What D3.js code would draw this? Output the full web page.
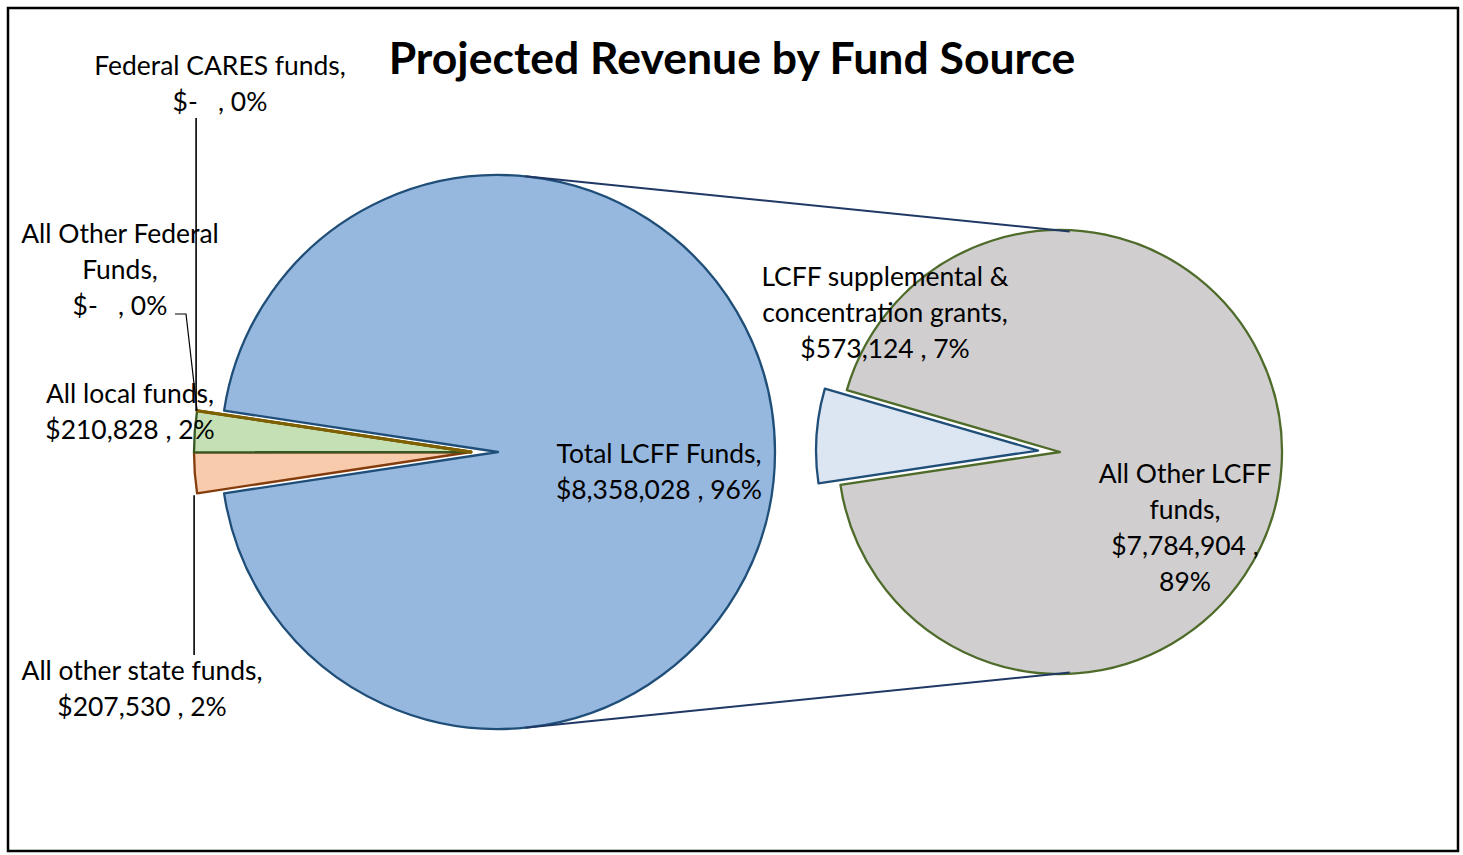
<!DOCTYPE html>
<html>
<head>
<meta charset="utf-8">
<script src="https://cdn.jsdelivr.net/npm/d3@7"></script>
<style>
	body { margin: 0; background: #fff; }
	svg text { font-family: Lato, "Open Sans", sans-serif; fill: #000; }
</style>
</head>
<body>
<svg id="chart" width="1463" height="855"></svg>
<script>

// main pie
const categories = ["Total LCFF Funds", "All other state funds", "All local funds", "All Other Federal Funds", "Federal CARES funds"];
const values = [8358028, 207530, 210828, 0, 0];
const pctLabels = ["96%", "2%", "2%", "0%", "0%"];

// second pie (split of Total LCFF Funds)
const splitCategories = ["LCFF supplemental & concentration grants", "All Other LCFF funds"];
const splitValues = [573124, 7784904];
const splitPctLabels = ["7%", "89%"];

const fills = ["#97b8de", "#f8cbad", "#c5e0b4", "#ffe699", "#ffe699"];
const strokes = ["#1f4e79", "#843c0c", "#385723", "#7f6000", "#7f6000"];
const splitFills = ["#dce6f2", "#d0cece"];
const splitStrokes = ["#1f4e79", "#4e6b2a"];

// label placement (centre x, first baseline y, wrap width)
const labelPos = {
	"Total LCFF Funds": { x: 659, y: 463, wrap: 265 },
	"All other state funds": { x: 142, y: 680, wrap: 265 },
	"All local funds": { x: 130, y: 403, wrap: 200 },
	"All Other Federal Funds": { x: 120, y: 243, wrap: 215 },
	"Federal CARES funds": { x: 220, y: 75, wrap: 275 },
	"LCFF supplemental & concentration grants": { x: 885, y: 286, wrap: 268 },
	"All Other LCFF funds": { x: 1185, y: 483, wrap: 178 }
};

const W = 1463, H = 855;
const lineH = 36;
const svg = d3.select('#chart');

// frame
svg.append('rect')
	.attr('x', 8).attr('y', 8)
	.attr('width', 1450).attr('height', 843)
	.attr('fill', 'none').attr('stroke', '#000').attr('stroke-width', 2.5);

// title, fitted to width
let title = svg.append('text')
	.attr('x', 732).attr('y', 74)
	.attr('text-anchor', 'middle')
	.style('font-weight', 'bold')
	.style('font-size', '40px')
	.text('Projected Revenue by Fund Source');
let tw = title.node().getComputedTextLength();
title.style('font-size', (40 * 687 / tw) + 'px');

// label font size fitted so "Total LCFF Funds," is ~205px
let probe = svg.append('text').style('font-size', '24px').text('Total LCFF Funds,');
const labelSize = 24 * 205 / probe.node().getComputedTextLength();
probe.style('font-size', labelSize + 'px');

function measure(str) {
	probe.text(str);
	return probe.node().getComputedTextLength();
}

function wrapWords(str, width) {
	let words = str.split(' ');
	let lines = [];
	let cur = '';
	words.forEach(w => {
		let t = cur === '' ? w : cur + ' ' + w;
		if (cur !== '' && measure(t) > width) {
			lines.push(cur);
			cur = w;
		} else {
			cur = t;
		}
	});
	if (cur !== '') lines.push(cur);
	return lines;
}

const fmtMoney = v => v === 0 ? '$-   ' : '$' + d3.format(',')(v) + ' ';

function labelLines(name, value, pct, width) {
	let nameLines = wrapWords(name + ',', width);
	// value part keeps its padding, so wrap on the ", " separator only
	let valStr = fmtMoney(value) + ',';
	let full = valStr + ' ' + pct;
	let valLines = measure(full) > width ? [valStr, pct] : [full];
	return nameLines.concat(valLines);
}

// ---------- left pie ----------
const cx1 = 498, cy1 = 452, r1 = 277;
const smallShift = -27;

const total = d3.sum(values);
const mainAngle = 2 * Math.PI * values[0] / total;
const start1 = Math.PI / 2 - mainAngle / 2;

const pie1 = d3.pie().sort(null).value(d => d.value)
	.startAngle(start1).endAngle(start1 + 2 * Math.PI);

const data1 = categories.map((c, i) => ({ name: c, value: values[i], pct: pctLabels[i], i: i }));
const arcs1 = pie1(data1);

const arc1 = d3.arc().innerRadius(0).outerRadius(r1);

const g1 = svg.append('g').attr('transform', `translate(${cx1},${cy1})`);

g1.selectAll('path')
	.data(arcs1)
	.join('path')
	.attr('transform', d => d.data.i === 0 ? null : `translate(${smallShift},0)`)
	.attr('d', arc1)
	.attr('fill', d => d.data.value === 0 ? 'none' : fills[d.data.i])
	.attr('stroke', d => strokes[d.data.i])
	.attr('stroke-width', d => d.data.value === 0 ? 3 : 2.3)
	.attr('stroke-linejoin', 'round');

// ---------- right pie ----------
const cx2 = 1060, cy2 = 452, r2 = 222;
const explode2 = 22;
const start2 = 261.5 * Math.PI / 180;

const pie2 = d3.pie().sort(null).value(d => d.value)
	.startAngle(start2).endAngle(start2 + 2 * Math.PI);

const data2 = splitCategories.map((c, i) => ({ name: c, value: splitValues[i], pct: splitPctLabels[i], i: i }));
const arcs2 = pie2(data2);
const arc2 = d3.arc().innerRadius(0).outerRadius(r2);

const g2 = svg.append('g').attr('transform', `translate(${cx2},${cy2})`);

g2.selectAll('path')
	.data(arcs2)
	.join('path')
	.attr('transform', d => {
		if (d.data.i !== 0) return null;
		let a = (d.startAngle + d.endAngle) / 2;
		return `translate(${explode2 * Math.sin(a)},${-explode2 * Math.cos(a)})`;
	})
	.attr('d', arc2)
	.attr('fill', d => splitFills[d.data.i])
	.attr('stroke', d => splitStrokes[d.data.i])
	.attr('stroke-width', 2.3)
	.attr('stroke-linejoin', 'round');

// ---------- connector lines (outer tangents of the two pies) ----------
const dist = cx2 - cx1;
const th = Math.asin((r1 - r2) / dist);
[-1, 1].forEach(s => {
	svg.append('line')
		.attr('x1', cx1 + r1 * Math.sin(th)).attr('y1', cy1 + s * r1 * Math.cos(th))
		.attr('x2', cx2 + r2 * Math.sin(th) - 12).attr('y2', cy2 + s * r2 * Math.cos(th) + (s < 0 ? 0.5 : -0.5))
		.attr('stroke', '#1f3864').attr('stroke-width', 2);
});

// ---------- leader lines ----------
function outerPoint(a, shift) {
	return [cx1 + shift + r1 * Math.sin(a), cy1 - r1 * Math.cos(a)];
}
const leader = d3.line();
const cares = arcs1[4], otherFed = arcs1[3], state = arcs1[1];

let pCares = outerPoint(cares.startAngle, smallShift);
let pFed = outerPoint(otherFed.startAngle, smallShift);
let pState = outerPoint(state.startAngle, smallShift);

svg.append('path')
	.attr('d', leader([[pCares[0] - 1, 118], [pCares[0] - 1, pCares[1]]]))
	.attr('fill', 'none').attr('stroke', '#000').attr('stroke-width', 1.6);
svg.append('path')
	.attr('d', leader([[175, 314], [186, 314], pFed]))
	.attr('fill', 'none').attr('stroke', '#000').attr('stroke-width', 1.2);
svg.append('path')
	.attr('d', leader([[pState[0] - 3, 655], [pState[0] - 3, pState[1] + 2]]))
	.attr('fill', 'none').attr('stroke', '#000').attr('stroke-width', 1.6);

// ---------- labels ----------
const allLabels = data1.concat(data2);
allLabels.forEach(d => {
	let p = labelPos[d.name];
	let lines = labelLines(d.name, d.value, d.pct, p.wrap);
	let t = svg.append('text')
		.attr('text-anchor', 'middle')
		.style('font-size', labelSize + 'px');
	lines.forEach((ln, k) => {
		t.append('tspan')
			.attr('x', p.x)
			.attr('y', p.y + k * lineH)
			.attr('xml:space', 'preserve')
			.style('white-space', 'pre')
			.text(ln);
	});
});

probe.remove();
</script>
</body>
</html>
